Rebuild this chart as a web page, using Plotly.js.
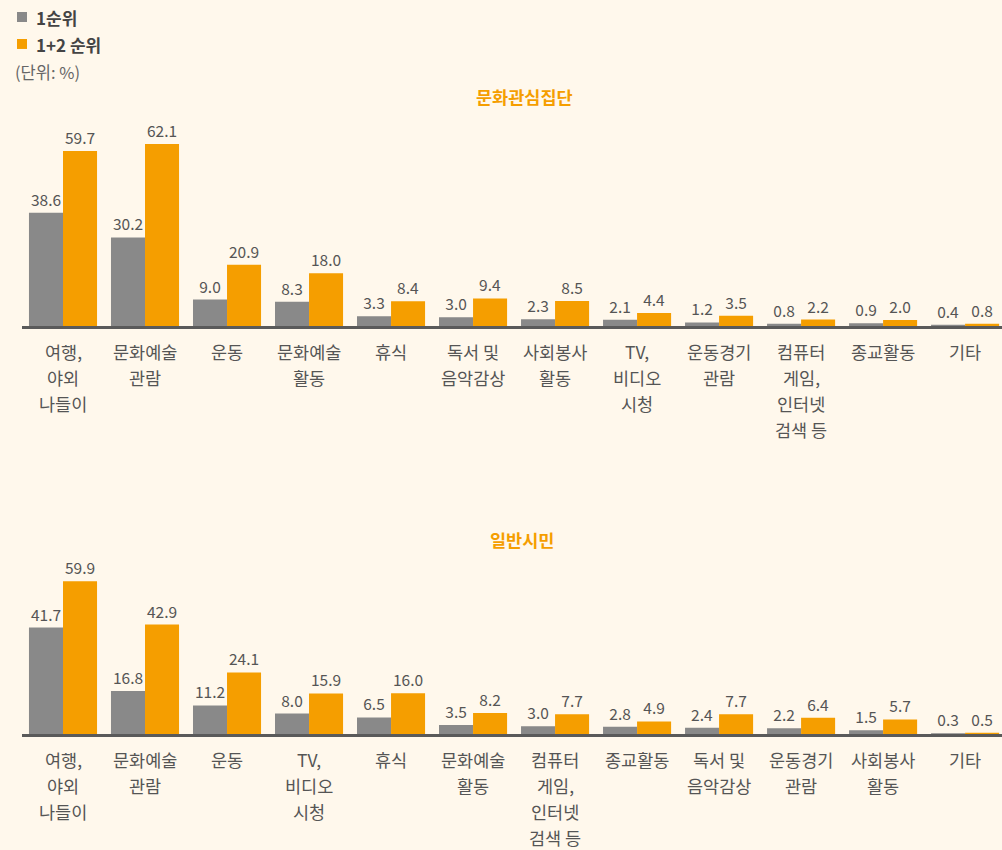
<!DOCTYPE html>
<html><head><meta charset="utf-8">
<script src="https://cdn.plot.ly/plotly-3.0.1.min.js"></script>
<style>html,body{margin:0;padding:0;background:#FFF8EC;}</style>
</head><body><div id="chart" style="width:1002px;height:850px;"></div>
<script>
const catsTop = ['여행,<br>야외<br>나들이','문화예술<br>관람','운동','문화예술<br>활동','휴식','독서 및<br>음악감상','사회봉사<br>활동','TV,<br>비디오<br>시청','운동경기<br>관람','컴퓨터<br>게임,<br>인터넷<br>검색 등','종교활동','기타'];
const rank1Top = [38.6,30.2,9.0,8.3,3.3,3.0,2.3,2.1,1.2,0.8,0.9,0.4];
const rank12Top = [59.7,62.1,20.9,18.0,8.4,9.4,8.5,4.4,3.5,2.2,2.0,0.8];
const catsBot = ['여행,<br>야외<br>나들이','문화예술<br>관람','운동','TV,<br>비디오<br>시청','휴식','문화예술<br>활동','컴퓨터<br>게임,<br>인터넷<br>검색 등','종교활동','독서 및<br>음악감상','운동경기<br>관람','사회봉사<br>활동','기타'];
const rank1Bot = [41.7,16.8,11.2,8.0,6.5,3.5,3.0,2.8,2.4,2.2,1.5,0.3];
const rank12Bot = [59.9,42.9,24.1,15.9,16.0,8.2,7.7,4.9,7.7,6.4,5.7,0.5];
const seriesNames = ['1순위','1+2 순위'];

const GRAY = '#898989', ORANGE = '#F59E00';
const FONT = 'Noto Sans CJK KR, Noto Sans, sans-serif';
const textFont = {size: 15.5, color: '#555555', family: FONT};

function bar(x, y, name, color, xa, ya) {
  return {type:'bar', x:x, y:y, name:name, marker:{color:color}, xaxis:xa, yaxis:ya,
    showlegend:false, text:y.map(v=>v.toFixed(1)), textposition:'outside',
    textfont:textFont, cliponaxis:false, hoverinfo:'none'};
}
const data = [
  bar(catsTop, rank1Top, seriesNames[0], GRAY, 'x', 'y'),
  bar(catsTop, rank12Top, seriesNames[1], ORANGE, 'x', 'y'),
  bar(catsBot, rank1Bot, seriesNames[0], GRAY, 'x2', 'y2'),
  bar(catsBot, rank12Bot, seriesNames[1], ORANGE, 'x2', 'y2')
];
const xax = {showline:true, linecolor:'#5a5a5a', linewidth:3, ticks:'', showticklabels:false,
  range:[-0.5, 11.45], fixedrange:true, showgrid:false, automargin:false};
const yax = {showgrid:false, zeroline:false, showticklabels:false, showline:false, fixedrange:true};

// category labels drawn line by line below each axis (reference uses wide line spacing)
function catLabels(cats, xref, yref) {
  const out = [];
  cats.forEach(c => {
    c.split('<br>').forEach((line, i) => {
      out.push({text:line, xref:xref, yref:yref, x:c, y:0, yanchor:'middle', xanchor:'center',
        yshift:-26*(i+1), showarrow:false, font:{size:17.5, color:'#555555', family:FONT}});
    });
  });
  return out;
}

const layout = {
  width:1002, height:850, paper_bgcolor:'#FFF8EC', plot_bgcolor:'#FFF8EC',
  margin:{l:22, r:0, t:0, b:0}, barmode:'group', bargap:0.17, bargroupgap:0,
  font:{family:FONT, color:'#555555'},
  showlegend:false,
  xaxis:Object.assign({}, xax, {domain:[0,1], anchor:'y'}),
  yaxis:Object.assign({}, yax, {domain:[0.6165,0.8706], range:[0,73.7], anchor:'x'}),
  xaxis2:Object.assign({}, xax, {domain:[0,1], anchor:'y2'}),
  yaxis2:Object.assign({}, yax, {domain:[0.1365,0.3412], range:[0,68.2], anchor:'x2'}),
  shapes:[
    {type:'rect', xref:'paper', yref:'paper', x0:-0.0051, x1:0.0051, y0:0.9741, y1:0.9859, fillcolor:GRAY, line:{width:0}},
    {type:'rect', xref:'paper', yref:'paper', x0:-0.0051, x1:0.0051, y0:0.9424, y1:0.9541, fillcolor:ORANGE, line:{width:0}}
  ],
  annotations:[
    {text:'<b>'+seriesNames[0]+'</b>', xref:'paper', yref:'paper', x:0.0122, y:0.980, xanchor:'left', yanchor:'middle', showarrow:false,
      font:{size:17, color:'#444444', family:FONT}},
    {text:'<b>'+seriesNames[1]+'</b>', xref:'paper', yref:'paper', x:0.0122, y:0.948, xanchor:'left', yanchor:'middle', showarrow:false,
      font:{size:17, color:'#444444', family:FONT}},
    {text:'(단위: %)', xref:'paper', yref:'paper', x:-0.0092, y:0.915, xanchor:'left', yanchor:'middle', showarrow:false,
      font:{size:16.5, color:'#666666', family:FONT}},
    {text:'<b>문화관심집단</b>', xref:'paper', yref:'paper', x:0.513, y:0.886, xanchor:'center', yanchor:'middle', showarrow:false,
      font:{size:17.5, color:ORANGE, family:FONT}},
    {text:'<b>일반시민</b>', xref:'paper', yref:'paper', x:0.51, y:0.365, xanchor:'center', yanchor:'middle', showarrow:false,
      font:{size:17.5, color:ORANGE, family:FONT}}
  ].concat(catLabels(catsTop, 'x', 'y domain'), catLabels(catsBot, 'x2', 'y2 domain'))
};
Plotly.newPlot('chart', data, layout, {displayModeBar:false, staticPlot:true});
</script></body></html>
